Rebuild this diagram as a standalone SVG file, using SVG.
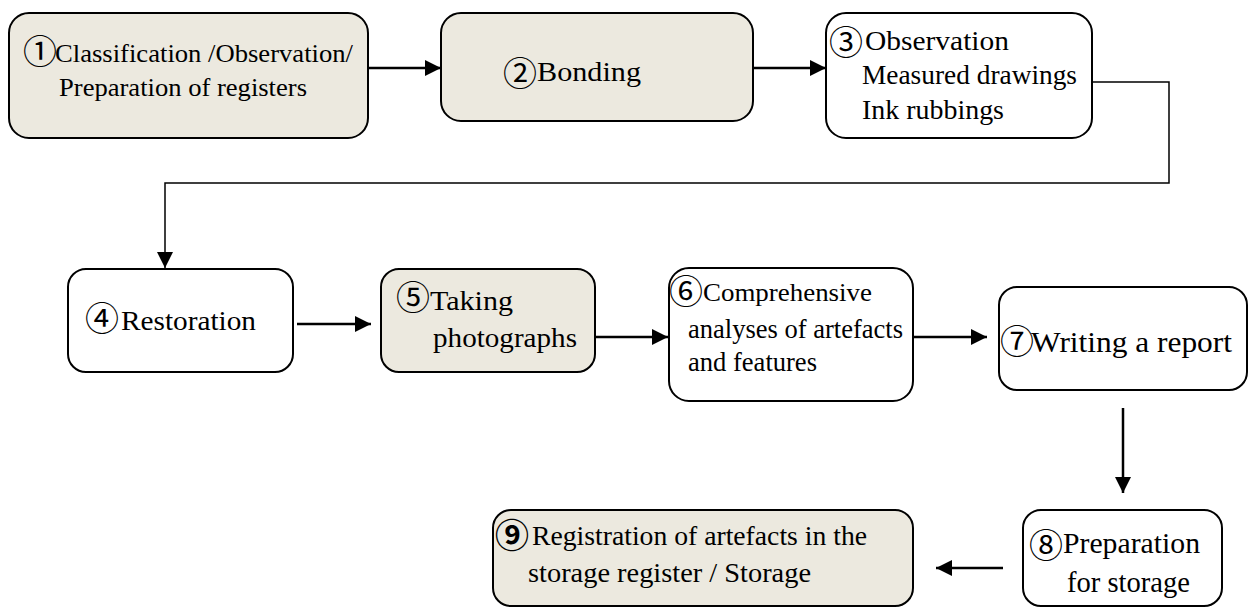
<svg xmlns="http://www.w3.org/2000/svg" width="1249" height="608" viewBox="0 0 1249 608">
<style>
.box{stroke:#000;stroke-width:2}
.beige{fill:#ECE9DF}
.white{fill:#fff}
text{font-family:'Liberation Serif','Times New Roman',serif;fill:#000}
tspan.n{font-family:'Noto Sans CJK JP','Noto Sans CJK SC',sans-serif;font-size:34px}
.conn{fill:none;stroke:#000;stroke-width:2.5}
.thin{stroke-width:1.5}
</style>
<defs>
<marker id="ah" markerUnits="userSpaceOnUse" markerWidth="16" markerHeight="16" refX="16" refY="8" orient="auto"><path d="M0,0 L16,8 L0,16 Z" fill="#000"/></marker>
</defs>
<rect width="1249" height="608" fill="#fff"/>
<g id="connectors">
<path class="conn" d="M368,68 H441" marker-end="url(#ah)"/>
<path class="conn" d="M753,68 H826" marker-end="url(#ah)"/>
<path class="conn thin" d="M1092,82 H1169 V183 H165 V268" marker-end="url(#ah)"/>
<path class="conn" d="M297,324 H371" marker-end="url(#ah)"/>
<path class="conn" d="M595,337 H668" marker-end="url(#ah)"/>
<path class="conn" d="M913,337 H987" marker-end="url(#ah)"/>
<path class="conn" d="M1123,408 V493" marker-end="url(#ah)"/>
<path class="conn" d="M1003,568 H936" marker-end="url(#ah)"/>
</g>
<g id="n1">
<rect class="box beige" x="9" y="13" width="359" height="125" rx="20"/>
<text y="62" font-size="26"><tspan class="n" x="23" y="64">①</tspan><tspan x="55" y="62" textLength="298" lengthAdjust="spacingAndGlyphs">Classification /Observation/</tspan></text>
<text x="59" y="96" font-size="26" textLength="248" lengthAdjust="spacingAndGlyphs">Preparation of registers</text>
</g>
<g id="n2">
<rect class="box beige" x="441" y="13" width="312" height="108" rx="20"/>
<text y="81" font-size="28"><tspan class="n" x="503" y="85.5">②</tspan><tspan x="537" y="81" textLength="104" lengthAdjust="spacingAndGlyphs">Bonding</tspan></text>
</g>
<g id="n3">
<rect class="box white" x="826" y="13" width="266" height="125" rx="20"/>
<text y="50" font-size="28"><tspan class="n" x="829" y="54.5">③</tspan><tspan x="865" y="50" textLength="144" lengthAdjust="spacingAndGlyphs">Observation</tspan></text>
<text x="862" y="84" font-size="27" textLength="215" lengthAdjust="spacingAndGlyphs">Measured drawings</text>
<text x="862" y="119" font-size="27" textLength="142" lengthAdjust="spacingAndGlyphs">Ink rubbings</text>
</g>
<g id="n4">
<rect class="box white" x="68" y="269" width="225" height="103" rx="18"/>
<text y="330" font-size="28"><tspan class="n" x="85" y="331">④</tspan><tspan x="121" y="330" textLength="135" lengthAdjust="spacingAndGlyphs">Restoration</tspan></text>
</g>
<g id="n5">
<rect class="box beige" x="381" y="269" width="214" height="103" rx="18"/>
<text y="310" font-size="28"><tspan class="n" x="396" y="309.5">⑤</tspan><tspan x="430" y="310" textLength="83" lengthAdjust="spacingAndGlyphs">Taking</tspan></text>
<text x="433" y="347" font-size="28" textLength="144" lengthAdjust="spacingAndGlyphs">photographs</text>
</g>
<g id="n6">
<rect class="box white" x="669" y="268" width="244" height="133" rx="20"/>
<text y="301" font-size="26"><tspan class="n" x="669" y="303.5">⑥</tspan><tspan x="703" y="301" textLength="169" lengthAdjust="spacingAndGlyphs">Comprehensive</tspan></text>
<text x="688" y="338" font-size="27" textLength="215" lengthAdjust="spacingAndGlyphs">analyses of artefacts</text>
<text x="688" y="371" font-size="27" textLength="129" lengthAdjust="spacingAndGlyphs">and features</text>
</g>
<g id="n7">
<rect class="box white" x="999" y="287" width="248" height="103" rx="18"/>
<text y="352" font-size="29"><tspan class="n" x="1000" y="354">⑦</tspan><tspan x="1031" y="352" textLength="201" lengthAdjust="spacingAndGlyphs">Writing a report</tspan></text>
</g>
<g id="n8">
<rect class="box white" x="1023" y="510" width="199" height="96" rx="18"/>
<text y="553" font-size="29"><tspan class="n" x="1029" y="558">⑧</tspan><tspan x="1063" y="553" textLength="137" lengthAdjust="spacingAndGlyphs">Preparation</tspan></text>
<text x="1067" y="592" font-size="29" textLength="123" lengthAdjust="spacingAndGlyphs">for storage</text>
</g>
<g id="n9">
<rect class="box beige" x="493" y="510" width="420" height="96" rx="18"/>
<text y="545" font-size="28"><tspan class="n" x="495" y="547.5" font-weight="bold">⑨</tspan><tspan x="532" y="545" textLength="335" lengthAdjust="spacingAndGlyphs">Registration of artefacts in the</tspan></text>
<text x="528" y="582" font-size="28" textLength="283" lengthAdjust="spacingAndGlyphs">storage register / Storage</text>
</g>
</svg>
